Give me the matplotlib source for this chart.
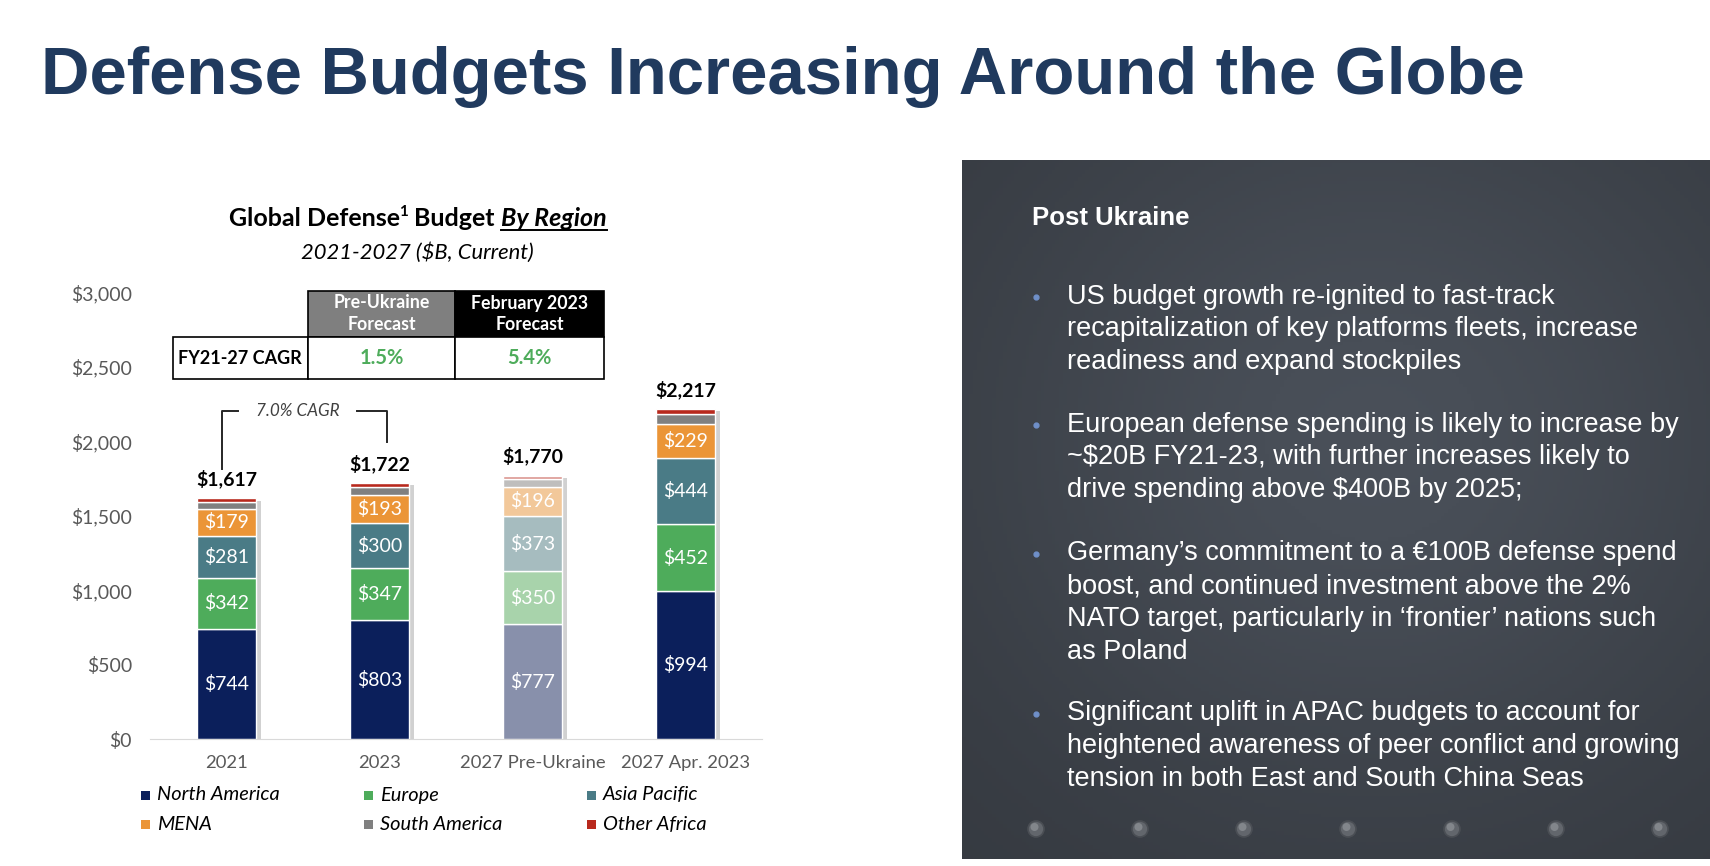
import numpy as np
import matplotlib.pyplot as plt
from matplotlib.patches import Rectangle, Circle
from matplotlib import patheffects as pe
from matplotlib.colors import to_rgb
from matplotlib.ticker import FuncFormatter

plt.rcParams['font.family'] = ['Lato', 'DejaVu Sans']

# ---------------------------------------------------------------------
# Data ($B, current)
# ---------------------------------------------------------------------
categories = ['2021', '2023', '2027 Pre-Ukraine', '2027 Apr. 2023']
north_america = [744, 803, 777, 994]
europe = [342, 347, 350, 452]
asia_pacific = [281, 300, 373, 444]
mena = [179, 193, 196, 229]
south_america = [50, 52, 54, 64]
other_africa = [21, 27, 20, 34]
totals = [1617, 1722, 1770, 2217]

series_names = ['North America', 'Europe', 'Asia Pacific', 'MENA', 'South America', 'Other Africa']
series_values = [north_america, europe, asia_pacific, mena, south_america, other_africa]
series_colors = ['#0B1F5B', '#4EAC5B', '#4A7B86', '#EB9537', '#808080', '#B8291D']
series_labelled = [True, True, True, True, False, False]
faded_bar = 2   # pre-Ukraine forecast shown washed out

cagr_headers = ['Pre-Ukraine\nForecast', 'February 2023\nForecast']
cagr_values = ['1.5%', '5.4%']
cagr_row_label = 'FY21-27 CAGR'
bracket_label = '7.0% CAGR'

panel_heading = 'Post Ukraine'
bullets = [
    ['US budget growth re-ignited to fast-track',
     'recapitalization of key platforms fleets, increase',
     'readiness and expand stockpiles'],
    ['European defense spending is likely to increase by',
     r'~\$20B FY21-23, with further increases likely to',
     r'drive spending above \$400B by 2025;'],
    ['Germany\u2019s commitment to a \u20ac100B defense spend',
     'boost, and continued investment above the 2%',
     'NATO target, particularly in \u2018frontier\u2019 nations such',
     'as Poland'],
    ['Significant uplift in APAC budgets to account for',
     'heightened awareness of peer conflict and growing',
     'tension in both East and South China Seas'],
]


def washed(col, k=0.47):
    c = np.array(to_rgb(col))
    return tuple(c * k + (1 - k) * np.array([0.97, 0.96, 0.95]))


# ---------------------------------------------------------------------
# Figure + a full-size overlay in pixel units for the slide furniture
# ---------------------------------------------------------------------
W, H = 1710, 866
fig = plt.figure(figsize=(W / 100, H / 100), dpi=100)
ov = fig.add_axes([0, 0, 1, 1], zorder=0)
ov.set_xlim(0, W)
ov.set_ylim(H, 0)
ov.axis('off')

ov.text(41, 94, 'Defense Budgets Increasing Around the Globe', family='Liberation Sans',
        fontweight='bold', fontsize=48.3, color='#203A5E', va='baseline', ha='left')

# ---------------------------------------------------------------------
# Stacked bar chart
# ---------------------------------------------------------------------
ax = fig.add_axes([150 / W, (H - 739.4) / H, 612 / W, 447 / H], zorder=2)
ax.patch.set_alpha(0)
x = np.arange(len(categories))
bw = 0.39

# soft drop shadow behind each full column
ax.bar(x, totals, bw, color='none', zorder=1,
       path_effects=[pe.SimplePatchShadow(offset=(3, -1.5), shadow_rgbFace='#8c8c8c', alpha=0.4)])

bottom = np.zeros(len(categories))
for name, vals, col, show in zip(series_names, series_values, series_colors, series_labelled):
    vals = np.array(vals)
    bars = ax.bar(x, vals, bw, bottom=bottom, color=col, edgecolor='white', linewidth=1.0, zorder=2)
    bars[faded_bar].set_facecolor(washed(col))
    if show:
        for i in range(len(x)):
            ax.text(x[i], bottom[i] + vals[i] / 2, f'${vals[i]:,}', ha='center', va='center',
                    color='white', fontsize=14, zorder=3)
    bottom += vals

for i, t in enumerate(totals):
    ax.annotate(f'${t:,}', (x[i], t), xytext=(0, 14), textcoords='offset points',
                ha='center', va='center', fontsize=14, fontweight='bold', color='black')

ax.set_xlim(-0.5, len(categories) - 0.5)
ax.set_ylim(0, 3000)
ax.set_yticks(np.arange(0, 3001, 500))
ax.yaxis.set_major_formatter(FuncFormatter(lambda v, p: f'${v:,.0f}'))
ax.set_xticks(x)
ax.set_xticklabels(categories)
for s in ['top', 'right', 'left']:
    ax.spines[s].set_visible(False)
ax.spines['bottom'].set_color('#D9D9D9')
ax.tick_params(axis='both', length=0, colors='#595959')
ax.tick_params(axis='y', pad=13, labelsize=14)
ax.tick_params(axis='x', pad=11, labelsize=13.3)

# CAGR bracket between 2021 and 2023
bk = dict(color='#262626', lw=1.4, clip_on=False, zorder=3)
ax.plot([-0.03, -0.03, 0.075], [1815, 2204, 2204], **bk)
ax.plot([0.853, 1.05, 1.05], [2204, 2204, 1996], **bk)
ax.text(0.464, 2204, bracket_label, ha='center', va='center', fontsize=12.3,
        style='italic', color='#404040')

# chart title pieces (superscript + underlined italic)
r = fig.canvas.get_renderer()
base_y = 226
pieces = [('Global Defense', dict(fontweight='bold', fontsize=18), 0, 0),
          ('1', dict(fontweight='bold', fontsize=11), -10, 0),
          ('Budget', dict(fontweight='bold', fontsize=18), 0, 6),
          ('By Region', dict(fontweight='bold', fontsize=18, style='italic'), 0, 6)]
objs = []
total_w = 0
for s, kw, dy, gap in pieces:
    t = ov.text(0, base_y + dy, s, va='baseline', ha='left', color='black', **kw)
    w = t.get_window_extent(r).width
    objs.append((t, w, gap))
    total_w += w + gap
xc = 417.5 - total_w / 2
for t, w, gap in objs:
    xc += gap
    t.set_x(xc)
    xc += w
last_t, last_w, _ = objs[-1]
ov.plot([last_t.get_position()[0], last_t.get_position()[0] + last_w], [base_y + 4, base_y + 4],
        color='black', lw=1.4)
ov.text(417, 253, '2021-2027 ($B, Current)', ha='center', va='center', fontsize=15.8,
        style='italic', color='black')

# CAGR comparison table
ov.add_patch(Rectangle((308, 291), 147, 46, facecolor='#7F7F7F', edgecolor='black', lw=1.2))
ov.add_patch(Rectangle((455, 291), 149, 46, facecolor='black', edgecolor='black', lw=1.2))
ov.add_patch(Rectangle((173, 337), 135, 42, facecolor='white', edgecolor='black', lw=1.2))
ov.add_patch(Rectangle((308, 337), 147, 42, facecolor='white', edgecolor='black', lw=1.2))
ov.add_patch(Rectangle((455, 337), 149, 42, facecolor='white', edgecolor='black', lw=1.2))
for cx, head, val in zip([381.5, 529.5], cagr_headers, cagr_values):
    l1, l2 = head.split('\n')
    ov.text(cx, 303, l1, ha='center', va='center', color='white', fontweight='bold', fontsize=12.8)
    ov.text(cx, 325, l2, ha='center', va='center', color='white', fontweight='bold', fontsize=12.8)
    ov.text(cx, 358, val, ha='center', va='center', color='#4EAC5B', fontweight='bold', fontsize=14.5)
ov.text(240, 358, cagr_row_label, ha='center', va='center', color='black', fontweight='bold', fontsize=13)

# legend (3 columns x 2 rows)
leg_x = [145, 368, 591]
leg_y = [795, 824.5]
for k, (name, col) in enumerate(zip(series_names, series_colors)):
    cx, cy = leg_x[k % 3], leg_y[k // 3]
    ov.add_patch(Rectangle((cx - 4.5, cy - 4.5), 9, 9, facecolor=col, edgecolor='none'))
    ov.text(cx + 12, cy, name, ha='left', va='center', fontsize=14.4, style='italic', color='black')

# ---------------------------------------------------------------------
# Right-hand dark panel
# ---------------------------------------------------------------------
yy, xx = np.mgrid[0:1:200j, 0:1:200j]
glow = np.exp(-((xx - 0.55) ** 2 + (yy - 0.4) ** 2) / 0.3)
base = np.array([0.24, 0.26, 0.29])
img = np.clip(base[None, None, :] * (0.85 + 0.35 * glow[:, :, None]), 0, 1)
ov.imshow(img, extent=(962, W, 859, 160), aspect='auto', zorder=0.5)

for rx in np.linspace(1036, 1660, 7):
    ov.add_patch(Circle((rx, 829), 8, facecolor='#62666c', edgecolor='#4a4e54', lw=1.2, zorder=1))
    ov.add_patch(Circle((rx - 1.5, 827), 4, facecolor='#82868b', edgecolor='none', zorder=1.1))

ov.text(1032, 218, panel_heading, family='Liberation Sans', fontweight='bold', fontsize=18.5,
        color='white', ha='left', va='center')
first_lines = [296.5, 424.5, 553.5, 713.5]
for y0, lines in zip(first_lines, bullets):
    ov.plot(1036, y0, 'o', ms=3.5, color='#6F8FC8', zorder=2)
    for j, line in enumerate(lines):
        ov.text(1067, y0 + j * 32.7, line, family='Liberation Sans', fontsize=19.5,
                color='white', ha='left', va='center')

fig.savefig('out.png', dpi=100)
